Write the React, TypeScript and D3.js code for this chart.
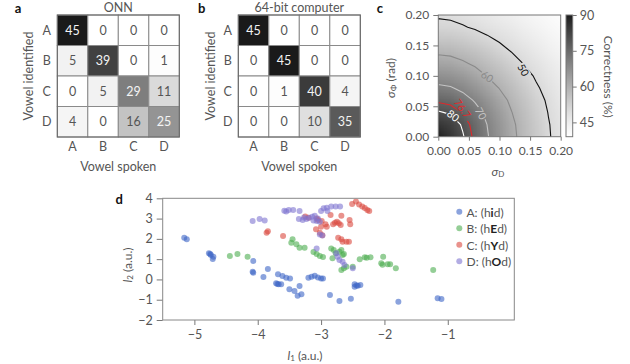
import React, { useEffect, useRef } from 'react';
import * as d3 from 'd3';

// confusion matrices, rows = vowel identified, cols = vowel spoken
const vowels = ['A', 'B', 'C', 'D'];
const onnCounts = [
  [45, 0, 0, 0],
  [5, 39, 0, 1],
  [0, 5, 29, 11],
  [4, 0, 16, 25],
];
const computerCounts = [
  [45, 0, 0, 0],
  [0, 45, 0, 0],
  [0, 1, 40, 4],
  [0, 0, 10, 35],
];

// correctness (%), rows = sigmaPhi 0..0.2, cols = sigmaD 0..0.2 (step 0.02)
const sigmaSteps = [0, 0.02, 0.04, 0.06, 0.08, 0.1, 0.12, 0.14, 0.16, 0.18, 0.2];
const correctness = [
  [89, 85, 80.5, 75.5, 70.5, 66.1, 61.6, 57.7, 54.1, 50.5, 47.8],
  [85, 83.1, 79.3, 74.7, 69.9, 65.7, 61.2, 57.4, 53.9, 50.3, 47.7],
  [80.5, 79.3, 76.3, 72.5, 68.4, 64.4, 60.1, 56.7, 53.2, 49.8, 47.3],
  [75.8, 75, 72.5, 69.4, 66.1, 62.4, 58.7, 55.5, 52.2, 49.1, 46.7],
  [71.2, 70.5, 68.6, 66.1, 63.1, 59.8, 56.9, 53.9, 50.7, 48.2, 46.0],
  [67, 66.5, 64.9, 62.6, 59.8, 57.4, 54.8, 52.0, 49.3, 47.0, 45.1],
  [62.8, 62.3, 60.9, 59.1, 57.1, 54.8, 52.4, 49.8, 47.8, 45.9, 44.2],
  [59, 58.6, 57.5, 56, 54.1, 52.0, 49.8, 48.1, 46.2, 44.7, 43.2],
  [55.2, 55, 54, 52.6, 50.9, 49.3, 47.8, 46.2, 44.9, 43.4, 42.2],
  [51.6, 51.3, 50.4, 49.4, 48.3, 47.0, 45.9, 44.7, 43.4, 42.3, 41.1],
  [49.3, 49, 48.3, 47.2, 46.2, 45.1, 44.2, 43.2, 42.2, 41.1, 40.0],
];
const contourLevels = [50, 60, 70, 76.7, 80];
const colorbarTicks = [45, 60, 75, 90];

// panel d: (l1, l2) per vowel
const vowelA = [
  [-5.16, 2.06], [-5.12, 1.98], [-4.77, 1.29], [-4.75, 1.25], [-4.74, 1.2], [-4.7, 1.12], [-4.71, 1.01],
  [-4.07, 0.91], [-4.08, 0.38], [-4.07, 0.33], [-3.84, 0.51], [-3.91, 0.12],
  [-3.68, 0.25], [-3.61, 0.17], [-3.55, 0.08], [-3.49, 0.05],
  [-3.71, -0.19], [-3.67, -0.24], [-3.63, -0.24], [-3.69, -0.22],
  [-3.5, -0.49], [-3.42, -0.57], [-3.34, -0.32], [-3.37, -0.8], [-3.31, -0.73],
  [-3.2, 0.08], [-3.15, 0.13], [-3.1, 0.18], [-3.05, 0.1], [-3.0, 0.05], [-2.97, 0.05],
  [-2.86, -0.77], [-2.71, -1.06], [-2.53, -0.95],
  [-2.47, -0.24], [-2.42, -0.31], [-2.38, -0.28], [-2.47, -0.36], [-2.44, -0.3],
  [-1.78, -1.1], [-1.16, -0.93], [-1.1, -0.97],
];
const vowelB = [
  [-4.44, 1.15], [-4.32, 1.25], [-4.16, 1.12],
  [-3.45, 1.98], [-3.47, 1.81], [-3.39, 1.73], [-3.34, 1.56], [-3.26, 1.56],
  [-3.12, 1.35], [-3.07, 1.25], [-3.02, 1.15], [-2.97, 1.1],
  [-2.84, 1.53], [-2.8, 1.45], [-2.77, 1.29], [-2.71, 1.37], [-2.68, 1.45], [-2.66, 1.2], [-2.64, 1.25], [-2.82, 1.05],
  [-2.64, 0.55], [-2.68, 0.46], [-2.6, 0.63], [-2.5, 0.63],
  [-2.39, 0.99], [-2.31, 1.09], [-2.28, 1.07], [-2.22, 1.09],
  [-2.02, 1.12], [-2.05, 0.8], [-2.03, 0.72], [-1.95, 0.75], [-1.91, 0.75], [-1.82, 0.55], [-1.23, 0.46],
];
const vowelC = [
  [-3.86, 2.3], [-3.84, 2.38], [-3.6, 2.14],
  [-3.25, 3.1], [-3.2, 3.04], [-3.07, 3.01], [-3.05, 2.93], [-2.99, 2.88],
  [-3.08, 2.47], [-3.02, 2.3], [-2.98, 2.18], [-3.0, 2.6],
  [-2.93, 2.72], [-2.91, 2.6], [-2.81, 2.72], [-2.75, 2.85], [-2.72, 2.77], [-2.78, 2.8],
  [-2.85, 3.18], [-2.68, 3.14], [-2.55, 2.93], [-2.54, 2.72], [-2.69, 2.68],
  [-2.73, 2.06], [-2.68, 1.98], [-2.66, 1.86], [-2.6, 1.86], [-2.56, 1.86],
  [-2.51, 3.72], [-2.45, 3.84], [-2.4, 3.7], [-2.35, 3.6], [-2.31, 3.52], [-2.27, 3.42], [-2.24, 3.37],
];
const vowelD = [
  [-4.08, 2.88], [-3.97, 2.98], [-3.89, 2.9],
  [-3.58, 3.39], [-3.55, 3.35], [-3.51, 3.42], [-3.44, 3.42], [-3.34, 3.37],
  [-3.35, 2.98], [-3.29, 2.93], [-3.23, 2.98], [-3.19, 3.04], [-3.14, 3.09], [-3.1, 3.14], [-3.27, 3.05], [-3.05, 3.0],
  [-3.07, 2.88], [-3.02, 2.85], [-3.12, 2.9],
  [-3.0, 3.37], [-2.96, 3.51], [-2.91, 3.54], [-2.84, 3.59], [-2.77, 3.59], [-2.7, 3.59], [-2.9, 3.38],
  [-3.02, 2.22], [-2.98, 2.16],
  [-3.07, 1.53],
  [-2.76, 1.29], [-2.74, 1.12], [-2.71, 0.96], [-2.66, 0.87], [-2.63, 0.71], [-2.5, 0.55],
];
const l1Ticks = [-5, -4, -3, -2, -1];
const l2Ticks = [-2, -1, 0, 1, 2, 3, 4];

const FONT = 'Lato, "Open Sans", sans-serif';
const GREY = '#555';

const styleAxis = (g, size) => {
  g.select('.domain').remove();
  g.selectAll('.tick line').attr('stroke', '#777');
  g.selectAll('.tick text').attr('fill', GREY).attr('font-size', size).attr('font-family', FONT);
};

const App = () => {
  const svgRef = useRef(null);

  useEffect(() => {
    const svg = d3.select(svgRef.current);
    svg.selectAll('*').remove();

    drawMatrix(svg, onnCounts, 57.3, 'ONN', 'a', 18, 28.3);
    drawMatrix(svg, computerCounts, 238.3, '64-bit computer', 'b', 201.7, 210);
    drawHeatmap(svg);
    drawScatter(svg);
  }, []);

  const drawMatrix = function (svg, counts, left, title, letter, letterX, yTitleX) {
    const top = 15, size = 122;
    const x = d3.scaleBand().domain(vowels).range([left, left + size]);
    const y = d3.scaleBand().domain(vowels).range([top, top + size]);
    const color = d3.scaleSequential((t) => d3.interpolateRgb('#ffffff', '#1a1a1a')(Math.pow(t, 1.3))).domain([0, 45]);
    const g = svg.append('g');

    vowels.forEach((row, i) => {
      vowels.forEach((col, j) => {
        const v = counts[i][j];
        g.append('rect')
          .attr('x', x(col)).attr('y', y(row))
          .attr('width', x.bandwidth()).attr('height', y.bandwidth())
          .attr('fill', color(v))
          .attr('stroke', '#8a8a8a');
        g.append('text')
          .attr('x', x(col) + x.bandwidth() / 2)
          .attr('y', y(row) + y.bandwidth() / 2)
          .attr('text-anchor', 'middle')
          .attr('dominant-baseline', 'central')
          .attr('font-size', 12.5)
          .attr('fill', v >= 25 ? '#f4f4f4' : GREY)
          .text(v);
      });
    });
    g.append('rect').attr('x', left).attr('y', top).attr('width', size).attr('height', size)
      .attr('fill', 'none').attr('stroke', '#666');

    vowels.forEach((v) => {
      g.append('text').attr('x', left - 10.6).attr('y', y(v) + y.bandwidth() / 2)
        .attr('text-anchor', 'middle').attr('dominant-baseline', 'central')
        .attr('font-size', 12.5).attr('fill', GREY).text(v);
      g.append('text').attr('x', x(v) + x.bandwidth() / 2).attr('y', 146.7)
        .attr('text-anchor', 'middle').attr('dominant-baseline', 'central')
        .attr('font-size', 12.5).attr('fill', GREY).text(v);
    });

    g.append('text').attr('x', left + size / 2).attr('y', 166.7)
      .attr('text-anchor', 'middle').attr('dominant-baseline', 'central')
      .attr('font-size', 12.5).attr('fill', GREY).text('Vowel spoken');
    g.append('text').attr('transform', `translate(${yTitleX},76) rotate(-90)`)
      .attr('text-anchor', 'middle').attr('dominant-baseline', 'central')
      .attr('font-size', 12.5).attr('fill', GREY).text('Vowel identified');
    g.append('text').attr('x', left + size / 2).attr('y', 7)
      .attr('text-anchor', 'middle').attr('dominant-baseline', 'central')
      .attr('font-size', 12.5).attr('fill', GREY).text(title);
    g.append('text').attr('x', letterX).attr('y', 8)
      .attr('text-anchor', 'middle').attr('dominant-baseline', 'central')
      .attr('font-size', 13).attr('font-weight', 'bold').attr('fill', '#111').text(letter);
  };

  const drawHeatmap = function (svg) {
    const x = d3.scaleLinear().domain([0, 0.2]).range([438.3, 560.7]);
    const y = d3.scaleLinear().domain([0, 0.2]).range([136.7, 15]);
    const n = sigmaSteps.length;
    const color = d3.scaleSequential((t) => d3.interpolateRgb('#ffffff', '#1c1c1c')(Math.pow(t, 1.2))).domain([39, 90]);
    const g = svg.append('g');
    const defs = svg.append('defs');

    defs.append('clipPath').attr('id', 'heat-clip')
      .append('rect').attr('x', x(0)).attr('y', y(0.2))
      .attr('width', x(0.2) - x(0)).attr('height', y(0) - y(0.2));

    // smooth field: one pixel per sample, stretched by the browser
    const canvas = document.createElement('canvas');
    canvas.width = n; canvas.height = n;
    const ctx = canvas.getContext('2d');
    const img = ctx.createImageData(n, n);
    correctness.forEach((row, j) => {
      row.forEach((v, i) => {
        const c = d3.rgb(color(v));
        const k = ((n - 1 - j) * n + i) * 4;
        img.data[k] = c.r; img.data[k + 1] = c.g; img.data[k + 2] = c.b; img.data[k + 3] = 255;
      });
    });
    ctx.putImageData(img, 0, 0);
    const cw = x(sigmaSteps[1]) - x(sigmaSteps[0]);
    const ch = y(sigmaSteps[0]) - y(sigmaSteps[1]);
    g.append('image')
      .attr('href', canvas.toDataURL())
      .attr('x', x(0) - cw / 2).attr('y', y(0.2) - ch / 2)
      .attr('width', cw * n).attr('height', ch * n)
      .attr('preserveAspectRatio', 'none')
      .attr('clip-path', 'url(#heat-clip)');

    // contour labels and the gaps they cut
    const labels = [
      { level: 50, x: 523.5, y: 70, rot: 62, color: '#111' },
      { level: 60, x: 487.3, y: 76.5, rot: 35, color: '#8a8a8a' },
      { level: 70, x: 481, y: 113.5, rot: 62, color: '#c4c4c4' },
      { level: 76.7, x: 462.5, y: 108.5, rot: 55, color: '#e0282a' },
      { level: 80, x: 453.3, y: 115.5, rot: 38, color: '#ffffff' },
    ];
    const mask = defs.append('mask').attr('id', 'label-gap');
    mask.append('rect').attr('x', 0).attr('y', 0).attr('width', 630).attr('height', 364).attr('fill', '#fff');
    labels.forEach((l) => {
      const w = String(l.level).length * 6 + 2;
      mask.append('rect').attr('x', -w / 2).attr('y', -5).attr('width', w).attr('height', 10)
        .attr('fill', '#000').attr('transform', `translate(${l.x},${l.y}) rotate(${l.rot})`);
    });

    const values = correctness.flat();
    const contours = d3.contours().size([n, n]).thresholds(contourLevels)(values);
    const path = d3.geoPath(d3.geoTransform({
      point: function (px, py) {
        this.stream.point(x((px - 0.5) * 0.02), y((py - 0.5) * 0.02));
      },
    }));
    const lineColor = { 50: '#111', 60: '#8a8a8a', 70: '#c4c4c4', 76.7: '#e0282a', 80: '#ffffff' };
    const lines = g.append('g').attr('clip-path', 'url(#heat-clip)').append('g').attr('mask', 'url(#label-gap)');
    lines.selectAll('path')
      .data(contours)
      .enter()
      .append('path')
      .attr('d', path)
      .attr('fill', 'none')
      .attr('stroke', (d) => lineColor[d.value])
      .attr('stroke-width', 1.1);

    labels.forEach((l) => {
      g.append('text').attr('transform', `translate(${l.x},${l.y}) rotate(${l.rot})`)
        .attr('text-anchor', 'middle').attr('dominant-baseline', 'central')
        .attr('font-size', 10.5).attr('fill', l.color).text(l.level);
    });

    g.append('rect').attr('x', x(0)).attr('y', y(0.2))
      .attr('width', x(0.2) - x(0)).attr('height', y(0) - y(0.2))
      .attr('fill', 'none').attr('stroke', '#777');

    const fmt = d3.format('.2f');
    const xAxis = g.append('g').attr('transform', `translate(0,${y(0)})`)
      .call(d3.axisBottom(x).tickValues([0, 0.05, 0.1, 0.15, 0.2]).tickFormat(fmt).tickSize(4).tickPadding(6));
    styleAxis(xAxis, 12);
    const yAxis = g.append('g').attr('transform', `translate(${x(0)},0)`)
      .call(d3.axisLeft(y).tickValues([0, 0.05, 0.1, 0.15, 0.2]).tickFormat(fmt).tickSize(5).tickPadding(4));
    styleAxis(yAxis, 12);

    // colour bar
    const cb = d3.scaleLinear().domain([39, 90]).range([136.7, 15]);
    const grad = defs.append('linearGradient').attr('id', 'cbar')
      .attr('x1', 0).attr('y1', 1).attr('x2', 0).attr('y2', 0);
    d3.range(0, 1.001, 0.1).forEach((t) => {
      grad.append('stop').attr('offset', t).attr('stop-color', color(39 + t * 51));
    });
    g.append('rect').attr('x', 566).attr('y', cb(90)).attr('width', 6.7).attr('height', cb(39) - cb(90))
      .attr('fill', 'url(#cbar)').attr('stroke', '#777');
    const cAxis = g.append('g').attr('transform', 'translate(572.7,0)')
      .call(d3.axisRight(cb).tickValues(colorbarTicks).tickSize(4).tickPadding(3));
    styleAxis(cAxis, 12.5);

    g.append('text').attr('transform', 'translate(608.3,76.7) rotate(90)')
      .attr('text-anchor', 'middle').attr('dominant-baseline', 'central')
      .attr('font-size', 12).attr('fill', GREY).text('Correctness (%)');

    const yl = g.append('text').attr('transform', 'translate(390,78) rotate(-90)')
      .attr('text-anchor', 'middle').attr('dominant-baseline', 'central')
      .attr('font-size', 12).attr('fill', GREY);
    yl.append('tspan').attr('font-style', 'italic').text('σ');
    yl.append('tspan').attr('font-size', 8).attr('dy', 3).text('Φ');
    yl.append('tspan').attr('dy', -3).text(' (rad)');

    const xl = g.append('text').attr('x', 498).attr('y', 171)
      .attr('text-anchor', 'middle').attr('dominant-baseline', 'central')
      .attr('font-size', 12).attr('fill', GREY);
    xl.append('tspan').attr('font-style', 'italic').text('σ');
    xl.append('tspan').attr('font-size', 8).attr('dy', 3).text('D');

    g.append('text').attr('x', 380).attr('y', 8)
      .attr('text-anchor', 'middle').attr('dominant-baseline', 'central')
      .attr('font-size', 13).attr('font-weight', 'bold').attr('fill', '#111').text('c');
  };

  const drawScatter = function (svg) {
    const x = d3.scaleLinear().domain([-5.5, 0.05]).range([162.7, 514.3]);
    const y = d3.scaleLinear().domain([-2, 4]).range([320, 198.3]);
    const g = svg.append('g');

    const series = [
      { name: 'A', sound: ['h', 'i', 'd'], color: '#3d66c6', points: vowelA },
      { name: 'B', sound: ['h', 'E', 'd'], color: '#4dae50', points: vowelB },
      { name: 'C', sound: ['h', 'Y', 'd'], color: '#da4a40', points: vowelC },
      { name: 'D', sound: ['h', 'O', 'd'], color: '#7f74d0', points: vowelD },
    ];

    const intFmt = d3.format('d');
    const xAxis = g.append('g').attr('transform', `translate(0,${y(-2)})`)
      .call(d3.axisBottom(x).tickValues(l1Ticks).tickFormat(intFmt).tickSize(5).tickPadding(5));
    styleAxis(xAxis, 12.5);
    const yAxis = g.append('g').attr('transform', `translate(${x(-5.5)},0)`)
      .call(d3.axisLeft(y).tickValues(l2Ticks).tickFormat(intFmt).tickSize(6).tickPadding(4));
    styleAxis(yAxis, 12.5);

    series.forEach((s) => {
      g.append('g').selectAll('circle')
        .data(s.points)
        .enter()
        .append('circle')
        .attr('cx', (d) => x(d[0]))
        .attr('cy', (d) => y(d[1]))
        .attr('r', 3)
        .attr('fill', s.color)
        .attr('fill-opacity', 0.6);
    });

    g.append('rect').attr('x', x(-5.5)).attr('y', y(4))
      .attr('width', x(0.05) - x(-5.5)).attr('height', y(-2) - y(4))
      .attr('fill', 'none').attr('stroke', '#888');

    series.forEach((s, i) => {
      const cy = 211.7 + i * 16.5;
      g.append('circle').attr('cx', 459.3).attr('cy', cy).attr('r', 3)
        .attr('fill', s.color).attr('fill-opacity', 0.6);
      const t = g.append('text').attr('x', 466.5).attr('y', cy)
        .attr('dominant-baseline', 'central').attr('font-size', 12).attr('fill', GREY);
      t.append('tspan').text(`${s.name}: (${s.sound[0]}`);
      t.append('tspan').attr('font-weight', 'bold').attr('fill', '#222').text(s.sound[1]);
      t.append('tspan').text(`${s.sound[2]})`);
    });

    const yl = g.append('text').attr('transform', 'translate(127,265) rotate(-90)')
      .attr('text-anchor', 'middle').attr('dominant-baseline', 'central')
      .attr('font-size', 12).attr('fill', GREY);
    yl.append('tspan').attr('font-style', 'italic').text('l');
    yl.append('tspan').attr('font-size', 8).attr('dy', 3).text('2');
    yl.append('tspan').attr('dy', -3).text(' (a.u.)');

    const xl = g.append('text').attr('x', 305).attr('y', 355)
      .attr('text-anchor', 'middle').attr('dominant-baseline', 'central')
      .attr('font-size', 12).attr('fill', GREY);
    xl.append('tspan').attr('font-style', 'italic').text('l');
    xl.append('tspan').attr('font-size', 8).attr('dy', 3).text('1');
    xl.append('tspan').attr('dy', -3).text(' (a.u.)');

    g.append('text').attr('x', 119.3).attr('y', 199.3)
      .attr('text-anchor', 'middle').attr('dominant-baseline', 'central')
      .attr('font-size', 13).attr('font-weight', 'bold').attr('fill', '#111').text('d');
  };

  return (
    <svg ref={svgRef} width={630} height={364}
      style={{ position: 'absolute', left: 0, top: 0, fontFamily: FONT, background: '#fff' }}></svg>
  );
};

export default App;
